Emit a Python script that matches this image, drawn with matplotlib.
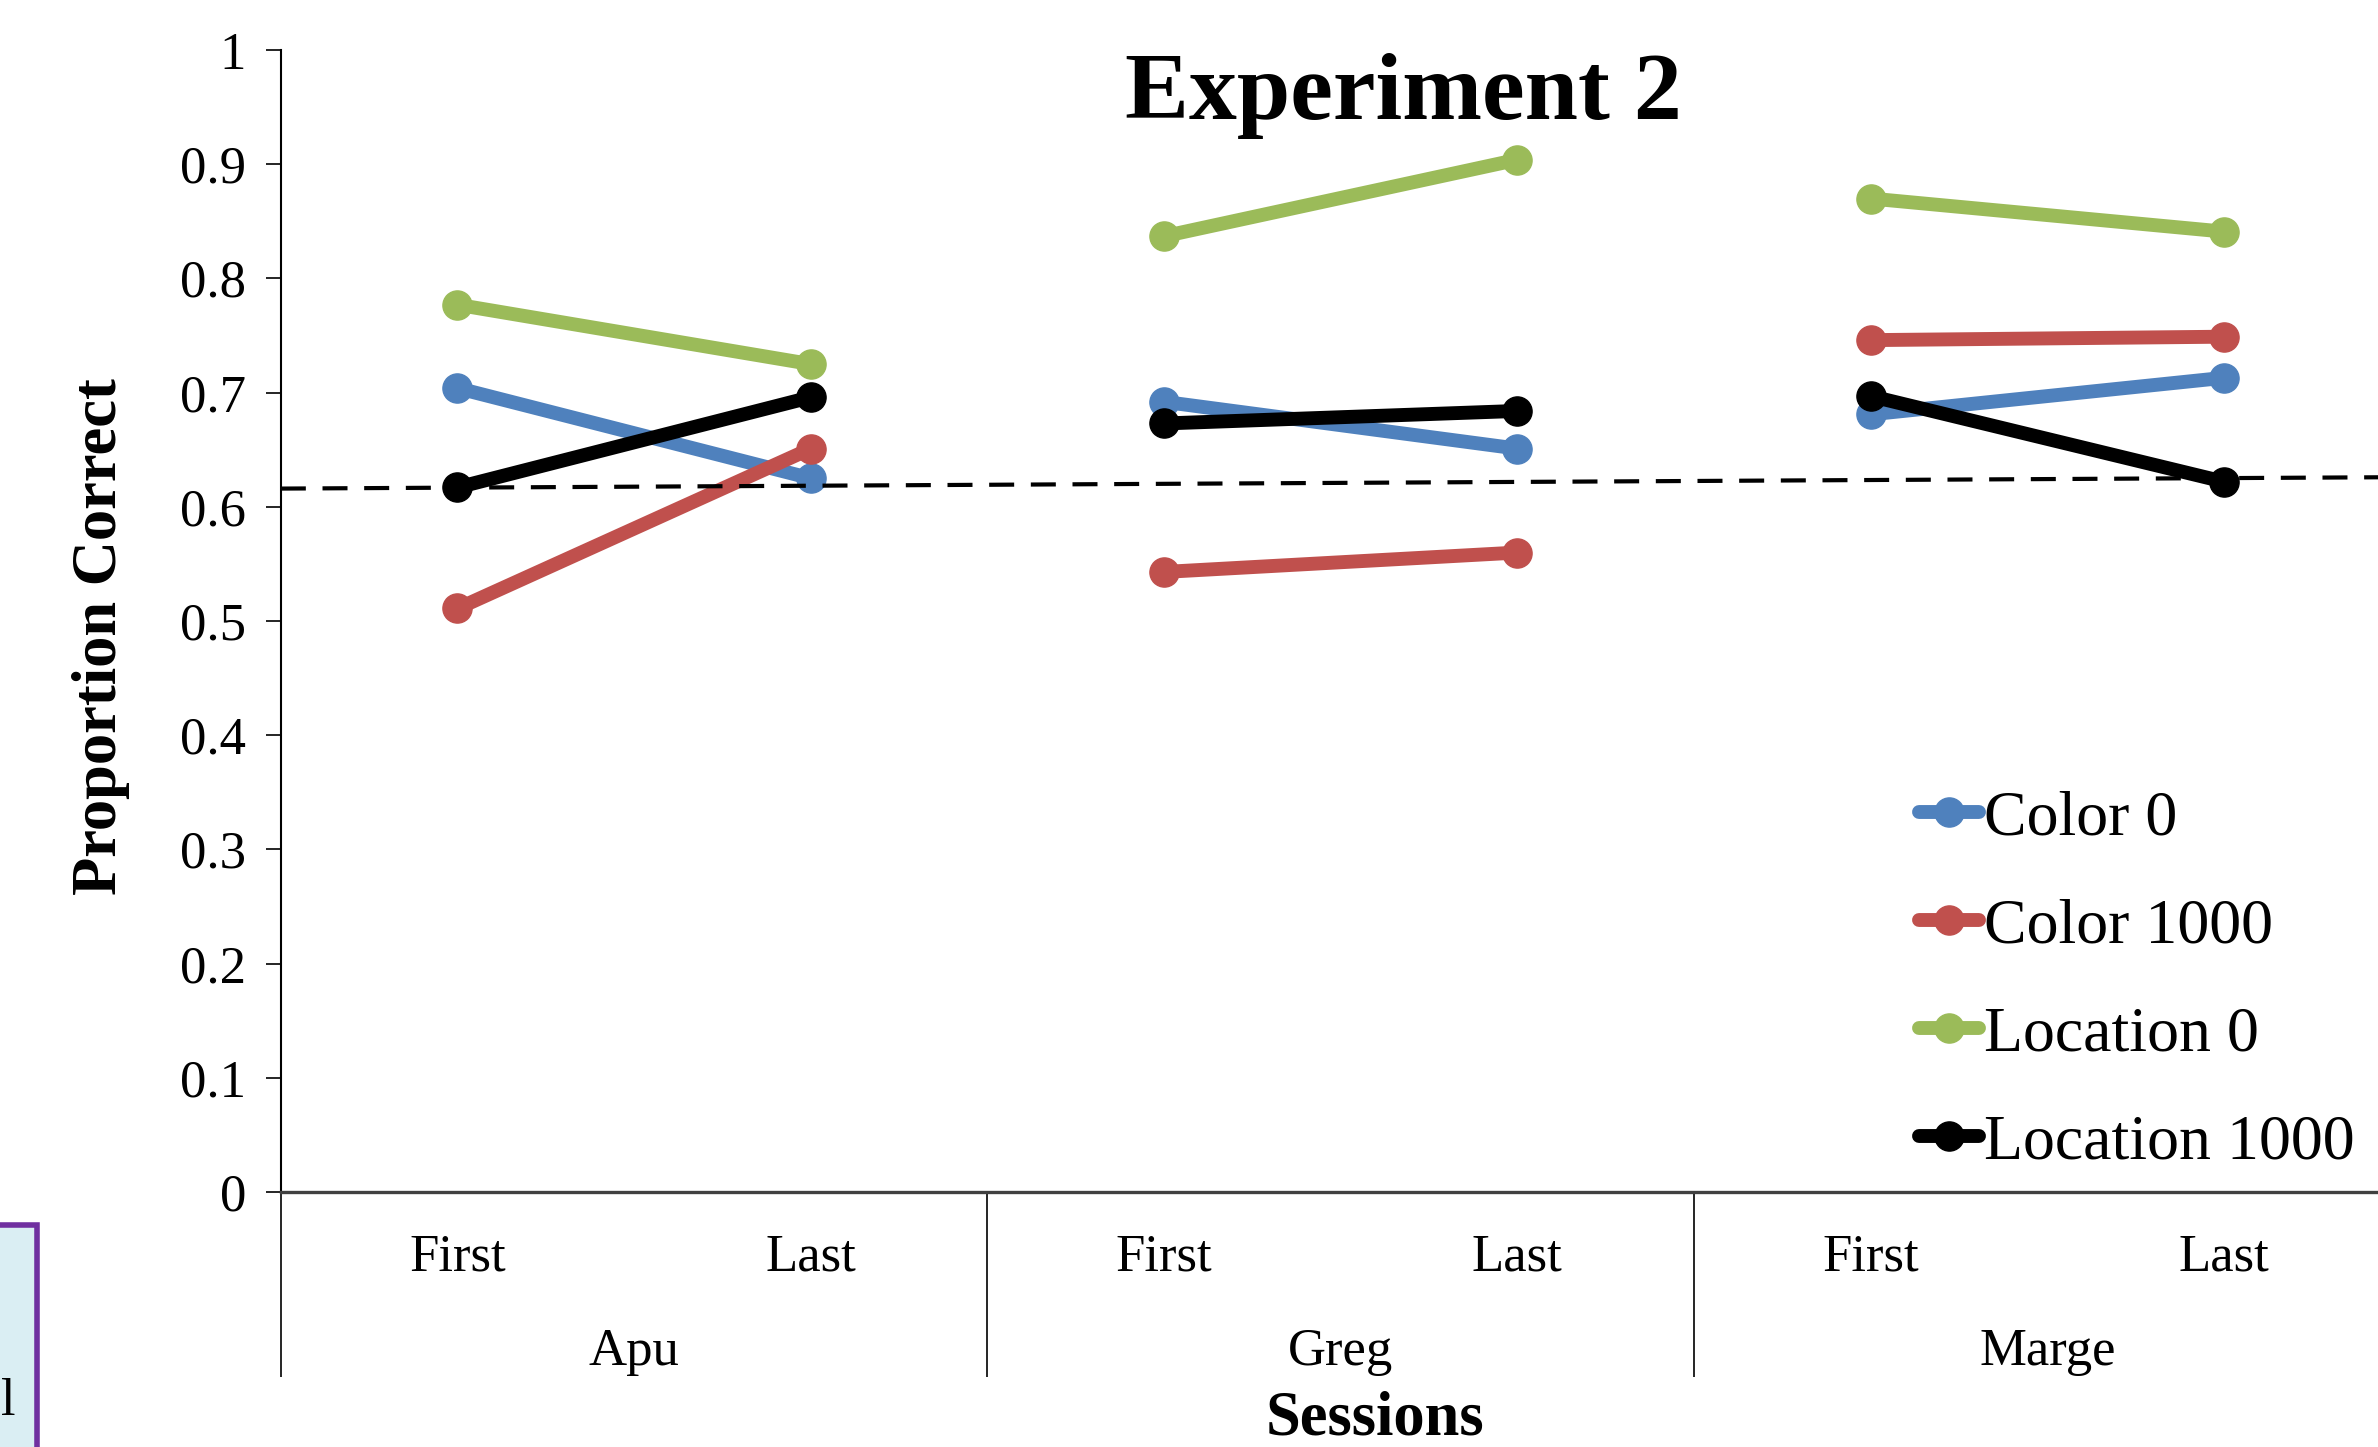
import numpy as np
import matplotlib
matplotlib.use("Agg")
import matplotlib.pyplot as plt
import matplotlib.transforms as mtransforms
from matplotlib.patches import Rectangle

plt.rcParams['font.family'] = ['Liberation Serif', 'DejaVu Serif']

# data
sessions = ["First", "Last", "First", "Last", "First", "Last"]
subjects = ["Apu", "Greg", "Marge"]
color_0 = [0.704, 0.625, 0.692, 0.651, 0.681, 0.713]
color_1000 = [0.511, 0.651, 0.543, 0.560, 0.746, 0.749]
location_0 = [0.777, 0.725, 0.837, 0.904, 0.870, 0.841]
location_1000 = [0.617, 0.696, 0.673, 0.684, 0.697, 0.622]
chance_line = [0.616, 0.626]  # dashed line, left end / right end
series_names = ["Color 0", "Color 1000", "Location 0", "Location 1000"]
series_colors = ["#4F81BD", "#C0504D", "#9BBB59", "#000000"]

W, H = 2378, 1447
fig = plt.figure(figsize=(W / 100, H / 100), dpi=100)
ax = fig.add_axes([0.1181, 0.1762, 0.8914, 0.7892])

x = np.arange(len(sessions))
handles = []
for vals, name, col in zip([color_0, color_1000, location_0, location_1000],
                           series_names, series_colors):
    for g in range(len(subjects)):
        xs = x[2 * g:2 * g + 2]
        ys = vals[2 * g:2 * g + 2]
        ln, = ax.plot(xs, ys, '-o', color=col, lw=10, ms=21,
                      solid_capstyle='round', clip_on=False,
                      label=name if g == 0 else None)
        if g == 0:
            handles.append(ln)

# dashed reference line
ax.plot([-0.5, 5.5], chance_line, color='black', lw=3, dashes=(6, 4), zorder=5)

ax.set_xlim(-0.5, 5.5)
ax.set_ylim(0, 1)
ax.set_yticks(np.arange(0, 1.01, 0.1))
ax.set_yticklabels(["0", "0.1", "0.2", "0.3", "0.4", "0.5", "0.6", "0.7", "0.8", "0.9", "1"])
ax.tick_params(axis='y', direction='out', length=11, width=1.2, pad=14, labelsize=38)
ax.set_xticks(x)
ax.set_xticklabels(sessions)
ax.tick_params(axis='x', length=0, pad=30, labelsize=38)

for s in ['top', 'right']:
    ax.spines[s].set_visible(False)
ax.spines['left'].set_linewidth(1.5)
ax.spines['bottom'].set_linewidth(2.4)
ax.spines['bottom'].set_color('#404040')

# group separators and group labels
trans = ax.get_xaxis_transform()
ax.vlines([-0.5, 1.5, 3.5, 5.5], -0.162, 0, transform=trans, color='black',
          lw=1.2, clip_on=False)
blend = mtransforms.blended_transform_factory(ax.transData, fig.transFigure)
for g, name in enumerate(subjects):
    ax.text(2 * g + 0.5, 0.0567, name, transform=blend, ha='center',
            va='baseline', fontsize=38)

fig.text(0.578, 0.039, "Sessions", ha='center', va='top', fontsize=45,
         weight='bold')
fig.text(0.0425, 0.5598, "Proportion Correct", rotation=90, ha='center',
         va='center', fontsize=45, weight='bold')
fig.text(0.590, 0.918, "Experiment 2", ha='center', va='baseline',
         fontsize=69, weight='bold')

ax.legend(handles=handles, loc='upper left', bbox_to_anchor=(0.807, 0.454),
          bbox_transform=fig.transFigure, frameon=False, fontsize=46,
          handlelength=0.94, handletextpad=0.08, labelspacing=0.77,
          borderpad=0, borderaxespad=0)

# partial box at lower left edge
fig.patches.append(Rectangle((-0.02, -0.02), 0.0356, 0.1734, transform=fig.transFigure,
                             facecolor='#DAEEF3', edgecolor='#7030A0', lw=4))
fig.text(0.0067, 0.0221, "l", ha='right', va='baseline', fontsize=38)

fig.savefig("out.png", dpi=100)
